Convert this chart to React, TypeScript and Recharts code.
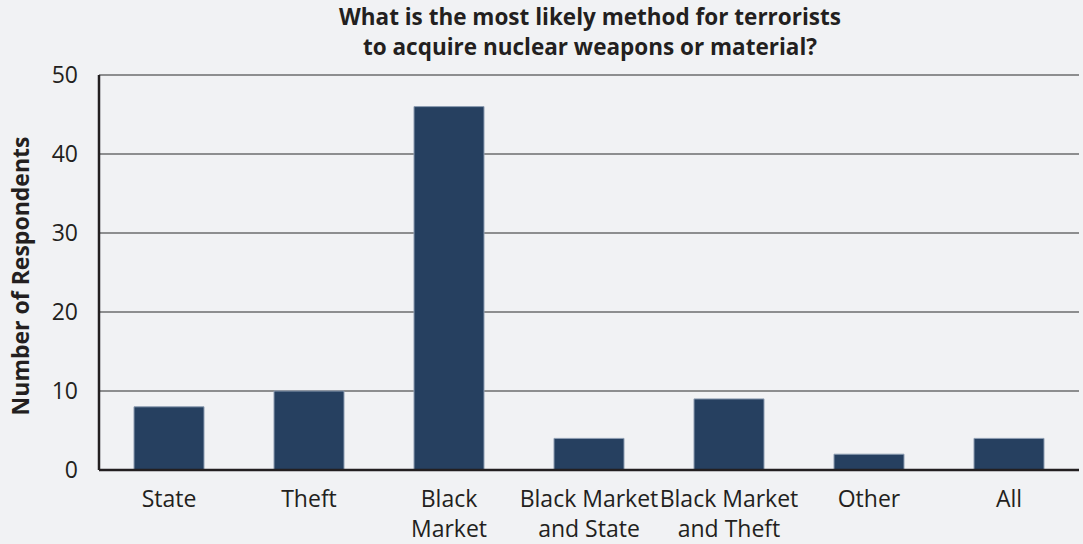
import React from 'react'
import { BarChart, Bar, XAxis, YAxis, CartesianGrid } from 'recharts'

const categories = ['State', 'Theft', 'Black|Market', 'Black Market|and State', 'Black Market|and Theft', 'Other', 'All']
const respondents = [8, 10, 46, 4, 9, 2, 4]
const yTicks = [0, 10, 20, 30, 40, 50]

const data = categories.map((name, i) => ({ name, value: respondents[i] }))

const font = '"Open Sans", "Noto Sans", sans-serif'

// two-line category labels, split on "|"
function CategoryTick({ x, y, payload }: any) {
  const lines = String(payload.value).split('|')
  return (
    <text x={x} y={y} textAnchor="middle" fill="#231f20" fontSize={23} fontFamily={font}>
      {lines.map((line: string, i: number) => (
        <tspan key={i} x={x} dy={i === 0 ? 29 : 30}>
          {line}
        </tspan>
      ))}
    </text>
  )
}

export default function App() {
  return (
    <div style={{ position: 'absolute', left: 0, top: 0, width: 1083, height: 544, background: '#f1f2f4', fontFamily: font }}>
      <div
        style={{
          position: 'absolute',
          left: 0,
          width: 1180,
          top: 2,
          textAlign: 'center',
          fontSize: 22.5,
          fontWeight: 700,
          lineHeight: '30px',
          color: '#231f20',
        }}
      >
        What is the most likely method for terrorists
        <br />
        to acquire nuclear weapons or material?
      </div>
      <div style={{ position: 'absolute', left: 0, top: 276, width: 44 }}>
        <div
          style={{
            position: 'absolute',
            left: 20,
            top: 0,
            transform: 'translate(-50%, -50%) rotate(-90deg)',
            whiteSpace: 'nowrap',
            fontSize: 23,
            fontWeight: 700,
            color: '#231f20',
          }}
        >
          Number of Respondents
        </div>
      </div>
      <div style={{ position: 'absolute', left: 0, top: 0 }}>
        <BarChart
          width={1083}
          height={544}
          data={data}
          margin={{ top: 75, right: 4, bottom: 0, left: 0 }}
        >
          <CartesianGrid vertical={false} stroke="#2a2a2a" strokeWidth={1.2} />
          <XAxis
            dataKey="name"
            height={74}
            interval={0}
            tick={<CategoryTick />}
            tickLine={false}
            axisLine={{ stroke: '#231f20', strokeWidth: 2.5 }}
          />
          <YAxis
            width={99}
            domain={[0, 50]}
            ticks={yTicks}
            tickLine={false}
            tickSize={0}
            tickMargin={21}
            axisLine={{ stroke: '#231f20', strokeWidth: 2.5 }}
            tick={{ fill: '#231f20', fontSize: 23, fontFamily: font }}
          />
          <Bar dataKey="value" fill="#264060" stroke="#8d9db2" strokeWidth={1} barSize={70} isAnimationActive={false} />
        </BarChart>
      </div>
    </div>
  )
}
